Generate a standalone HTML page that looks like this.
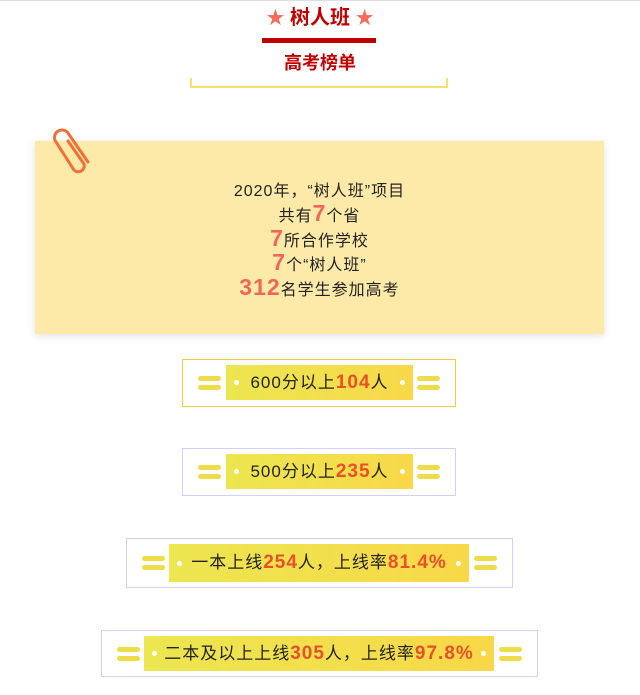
<!DOCTYPE html>
<html><head><meta charset="utf-8"><style>
*{margin:0;padding:0;box-sizing:border-box}
body{width:640px;height:695px;background:#fff;position:relative;overflow:hidden;font-family:"Liberation Sans","Noto Sans CJK SC",sans-serif;color:#222}
.abs{position:absolute}
.title{left:0;width:640px;text-align:center;font-weight:bold;color:#c00000}
.card{left:35px;top:141px;width:569px;height:193px;background:#fdeaa8;box-shadow:0 2px 8px rgba(0,0,0,0.12)}
.txt{left:35px;width:569px;top:180px;text-align:center;font-size:16px;letter-spacing:1px}
.txt div{height:24.8px;line-height:24px;overflow:visible;white-space:nowrap}
.n{color:#f2665a;font-weight:bold;font-size:23px;line-height:0}
.box{position:absolute;border:1px solid #d8ccf8;background:#fff}
.band{position:absolute;background:linear-gradient(90deg,#ece650,#f8d848);text-align:center;font-size:17px;color:#222;letter-spacing:1px}
.band b{color:#e8502a;font-size:19px}
.band .d{position:absolute;top:50%;width:5px;height:5px;margin-top:-2.5px;border-radius:50%;background:#fff}
.bar{position:absolute;width:23px;height:5px;border-radius:3px;background:#eedd4a}
</style></head><body>
<div class="abs" style="left:0;top:0;width:640px;height:1px;background:#ddd"></div>
<div class="abs title" style="top:5px;font-size:20px;line-height:26px"><span style="color:#f86a5a;font-size:18px">★</span> 树人班 <span style="color:#f86a5a;font-size:18px">★</span></div>
<div class="abs" style="left:262px;top:38px;width:114px;height:5px;background:#c00000"></div>
<div class="abs title" style="top:50px;font-size:18px;line-height:26px">高考榜单</div>
<div class="abs" style="left:190px;top:78px;width:258px;height:10px;border:2px solid #f5e068;border-top:none"></div>
<div class="abs card"></div>
<svg class="abs" style="left:48px;top:122px" width="50" height="52" viewBox="0 0 50 52"><path d="M20 19 L36 42 a6 6 0 0 1 -10 6 L8 20 a7 7 0 0 1 12 -9 L40 40" fill="none" stroke="#f07038" stroke-width="3" stroke-linecap="round"/></svg>
<div class="abs txt"><div>2020年，“树人班”项目</div><div>共有<span class="n">7</span>个省</div><div><span class="n">7</span>所合作学校</div><div><span class="n">7</span>个“树人班”</div><div><span class="n">312</span>名学生参加高考</div></div>

<div class="box" style="left:182px;top:359px;width:274px;height:48px;border-color:#f8cc40"></div>
<div class="bar" style="left:198px;top:376px"></div><div class="bar" style="left:198px;top:385px"></div>
<div class="band" style="left:226px;top:365px;width:187px;height:35px;line-height:35px"><span class="d" style="left:8px"></span>600分以上<b>104</b>人<span class="d" style="right:8px"></span></div>
<div class="bar" style="left:417px;top:376px"></div><div class="bar" style="left:417px;top:385px"></div>

<div class="box" style="left:182px;top:448px;width:274px;height:48px"></div>
<div class="bar" style="left:198px;top:465px"></div><div class="bar" style="left:198px;top:474px"></div>
<div class="band" style="left:226px;top:454px;width:187px;height:35px;line-height:35px"><span class="d" style="left:8px"></span>500分以上<b>235</b>人<span class="d" style="right:8px"></span></div>
<div class="bar" style="left:417px;top:465px"></div><div class="bar" style="left:417px;top:474px"></div>

<div class="box" style="left:126px;top:538px;width:387px;height:50px"></div>
<div class="bar" style="left:142px;top:556px"></div><div class="bar" style="left:142px;top:565px"></div>
<div class="band" style="left:169px;top:544px;width:300px;height:38px;line-height:38px"><span class="d" style="left:8px"></span>一本上线<b>254</b>人，上线率<b>81.4%</b><span class="d" style="right:8px"></span></div>
<div class="bar" style="left:474px;top:556px"></div><div class="bar" style="left:474px;top:565px"></div>

<div class="box" style="left:101px;top:630px;width:437px;height:47px"></div>
<div class="bar" style="left:117px;top:647px"></div><div class="bar" style="left:117px;top:656px"></div>
<div class="band" style="left:144px;top:636px;width:350px;height:35px;line-height:35px"><span class="d" style="left:8px"></span>二本及以上上线<b>305</b>人，上线率<b>97.8%</b><span class="d" style="right:8px"></span></div>
<div class="bar" style="left:499px;top:647px"></div><div class="bar" style="left:499px;top:656px"></div>
</body></html>
